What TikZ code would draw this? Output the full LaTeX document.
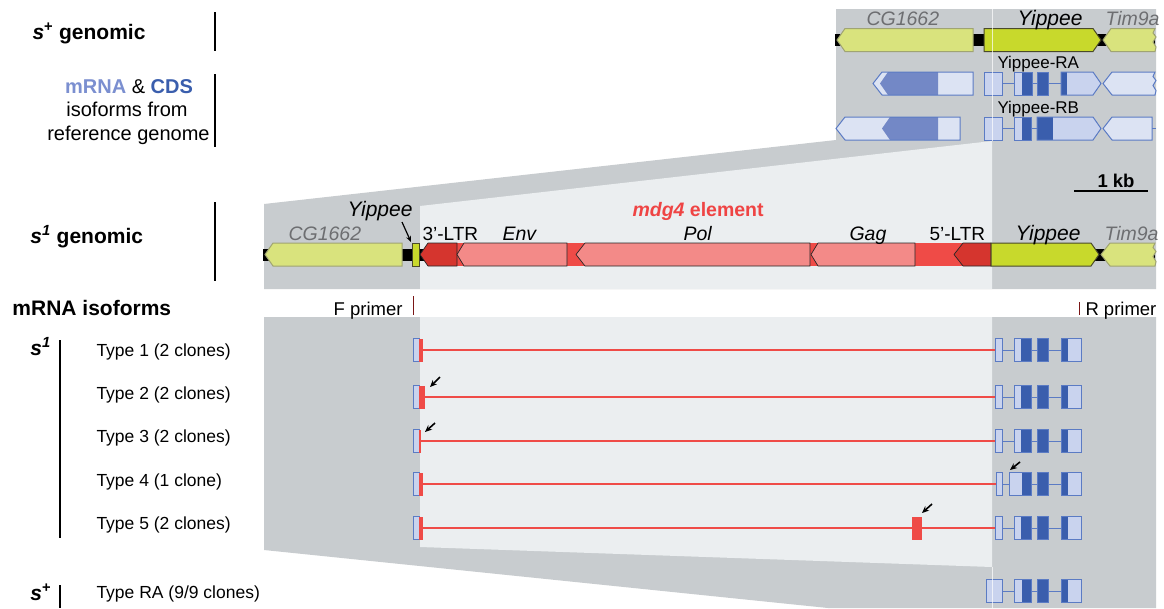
\documentclass[tikz,border=0pt]{standalone}
\usepackage{fontspec}
\setmainfont{Liberation Sans}
\usetikzlibrary{arrows.meta}
\definecolor{panelgray}{HTML}{C8CCCF}
\definecolor{panellight}{HTML}{EBEEF0}
\definecolor{cgyel}{HTML}{D9E37D}
\definecolor{cgout}{HTML}{A0A472}
\definecolor{yipyel}{HTML}{C8D92C}
\definecolor{yipout}{HTML}{4A4A2A}
\definecolor{ltrred}{HTML}{D5352E}
\definecolor{elred}{HTML}{EF4B47}
\definecolor{elpink}{HTML}{F38A88}
\definecolor{utrblue}{HTML}{DCE3F3}
\definecolor{exlight}{HTML}{C9D3EE}
\definecolor{cdsdark}{HTML}{3A5EAD}
\definecolor{cdsmid}{HTML}{7388C6}
\definecolor{outblue}{HTML}{5B7BC4}
\definecolor{mrnablue}{HTML}{7B8FD0}
\definecolor{labgray}{HTML}{6D6E71}
\definecolor{primred}{HTML}{7A1616}
\definecolor{mdgred}{HTML}{EF4444}
\newcommand\fsz[1]{\fontsize{#1}{#1}\selectfont}
% left-pointing gene: style, tip x, shoulder x, right x, yc
\newcommand\geneL[5]{\path[#1] (#2,#5) -- (#3,{#5-11.5}) -- (#4,{#5-11.5}) -- (#4,{#5+11.5}) -- (#3,{#5+11.5}) -- cycle;}
% right-pointing gene: style, left x, shoulder x, tip x, yc
\newcommand\geneR[5]{\path[#1] (#2,{#5-11.5}) -- (#3,{#5-11.5}) -- (#4,#5) -- (#3,{#5+11.5}) -- (#2,{#5+11.5}) -- cycle;}
% left-pointing gene with jagged right end: style, tip, shoulder, right, yc
\newcommand\geneJ[5]{\path[#1] (#2,#5) -- (#3,{#5-11.5}) -- (#4,{#5-11.5}) -- ({#4-2},{#5-7}) -- ({#4+1},{#5-3}) -- ({#4-2},{#5+2}) -- ({#4+1},{#5+7}) -- (#4,{#5+11.5}) -- (#3,{#5+11.5}) -- cycle;}
% box: style, x1, x2, yc
\newcommand\gbox[4]{\path[#1] (#2,{#4-11.5}) rectangle (#3,{#4+11.5});}
% Yippee-RA transcript in the lower rows: yc, exon1 left, exon2 left, dark start of exon2
\newcommand\yipTx[4]{%
 \draw[outblue,line width=1pt] (1002,#1) -- (1061,#1);
 \gbox{fill=exlight,draw=outblue}{#2}{1002}{#1}
 \gbox{fill=exlight}{#3}{1031}{#1}\gbox{fill=cdsdark}{#4}{1031}{#1}\gbox{draw=outblue}{#3}{1031}{#1}
 \gbox{fill=cdsdark,draw=outblue}{1037}{1048}{#1}
 \gbox{fill=exlight}{1061}{1081}{#1}\gbox{fill=cdsdark}{1061}{1068}{#1}\gbox{draw=outblue}{1061}{1081}{#1}}
\begin{document}
\begin{tikzpicture}[x=1pt,y=-1pt,line width=1pt,
  lab/.style={inner sep=0pt,anchor=base west},
  rowlab/.style={lab,font=\fsz{17.5}},
  headlab/.style={lab,font=\fsz{21}\bfseries},
  genelab/.style={lab,font=\fsz{19.5}\itshape,text=labgray},
  yiplab/.style={lab,font=\fsz{21}\itshape},
  tplab/.style={lab,font=\fsz{19}},
  redline/.style={draw=elred,line width=1.4pt},
  vbar/.style={black,line width=2pt},
  pointer/.style={-{Stealth[length=7pt,width=6pt]},line width=1.6pt,black}]
\useasboundingbox (0,0) rectangle (1164,608);
\fill[white] (0,0) rectangle (1164,608);
% ---------- panels ----------
\fill[panelgray] (836,9) -- (1156,9) -- (1156,289) -- (264,289) -- (264,204) -- (836,140) -- cycle;
\fill[panellight] (992,141) -- (992,289) -- (420,289) -- (420,206) -- cycle;
\fill[panelgray] (264,317) -- (1156,317) -- (1156,608) -- (828,608) -- (264,550) -- cycle;
\fill[panellight] (420,317) -- (992,317) -- (992,567) -- (420,547) -- cycle;
% ---------- s+ genomic ----------
\fill[black] (835,34) rectangle (1155,46);
\geneL{fill=cgyel,draw=cgout}{837}{845}{973}{40}
\geneR{fill=yipyel,draw=yipout}{984}{1093}{1101}{40}
\geneJ{fill=cgyel,draw=cgout}{1103}{1111}{1155}{40}
\node[genelab] (tcg) at (866,25) {CG1662};
\node[yiplab] (tyip) at (1017,25) {Yippee};
\node[genelab] (ttim) at (1105,25) {Tim9a};
% ---------- reference isoforms ----------
% RA
\geneL{fill=utrblue}{873}{882}{973}{83.5}
\geneL{fill=cdsmid}{880}{888}{938}{83.5}
\geneL{draw=outblue}{873}{882}{973}{83.5}
\draw[outblue] (1002,83.5) -- (1061,83.5);
\gbox{fill=exlight,draw=outblue}{984}{1002}{83.5}
\gbox{fill=exlight}{1014}{1032}{83.5}\gbox{fill=cdsdark}{1022}{1032}{83.5}\gbox{draw=outblue}{1014}{1032}{83.5}
\gbox{fill=cdsdark,draw=outblue}{1037}{1048}{83.5}
\geneR{fill=exlight}{1061}{1093}{1101}{83.5}\gbox{fill=cdsdark}{1061}{1067}{83.5}\geneR{draw=outblue}{1061}{1093}{1101}{83.5}
\geneJ{fill=utrblue,draw=outblue}{1103}{1112}{1155}{83.5}
\node[tplab,font=\fsz{17}] (tra) at (997,68.3) {Yippee-RA};
% RB
\geneL{fill=utrblue}{836}{845}{960}{128.5}
\geneL{fill=cdsmid}{882}{890}{938}{128.5}
\geneL{draw=outblue}{836}{845}{960}{128.5}
\draw[outblue] (1002,128.5) -- (1037,128.5);
\gbox{fill=exlight,draw=outblue}{984}{1002}{128.5}
\gbox{fill=exlight}{1014}{1031}{128.5}\gbox{fill=cdsdark}{1022}{1031}{128.5}\gbox{draw=outblue}{1014}{1031}{128.5}
\geneR{fill=exlight}{1037}{1093}{1101}{128.5}\gbox{fill=cdsdark}{1037}{1053}{128.5}\geneR{draw=outblue}{1037}{1093}{1101}{128.5}
\geneL{fill=utrblue,draw=outblue}{1103}{1112}{1152}{128.5}
\draw[outblue] (1152,128.5) -- (1156,128.5);
\node[tplab,font=\fsz{17}] (trb) at (997,113.3) {Yippee-RB};
\draw[white,opacity=0.7,line width=0.8pt] (992,9) -- (992,141);
% scale bar
\node[lab,anchor=base,font=\fsz{18.5}\bfseries] (kb) at (1116,187) {1 kb};
\draw[line width=2pt] (1074,191) -- (1148,191);
% ---------- s1 genomic ----------
\fill[black] (263,248.5) rectangle (1155,260.5);
\geneL{fill=cgyel,draw=cgout}{265}{273}{402}{254.5}
\gbox{fill=yipyel,draw=yipout,line width=0.6pt}{412}{419}{254.5}
\gbox{fill=elred}{457}{991}{254.5}
\geneL{fill=ltrred,draw=black!85,line width=0.7pt}{420}{428}{457}{254.5}
\geneL{fill=elpink,draw=black!85,line width=0.7pt}{457}{464}{567}{254.5}
\geneL{fill=elpink,draw=black!85,line width=0.7pt}{576}{585}{810}{254.5}
\geneL{fill=elpink,draw=black!85,line width=0.7pt}{811}{818}{915}{254.5}
\geneL{fill=ltrred,draw=black!85,line width=0.7pt}{954}{963}{991}{254.5}
\geneR{fill=yipyel,draw=yipout}{991}{1091}{1099}{254.5}
\geneJ{fill=cgyel,draw=cgout}{1101}{1110}{1155}{254.5}
\node[genelab] (mcg) at (288,240) {CG1662};
\node[yiplab] (msy) at (347,216.7) {Yippee};
\coordinate (sytail) at (402,222);
\coordinate (sytip) at (411,242);
\draw[-{Stealth[length=6pt,width=5pt]},line width=1.2pt] (sytail) -- (sytip);
\node[lab,font=\fsz{19.5}\bfseries,text=mdgred] (mdg) at (632,216.7) {\textit{mdg4} element};
\node[tplab] (ltr3) at (422,240) {3’-LTR};
\node[yiplab,font=\fsz{19.5}\itshape] (env) at (502,240) {Env};
\node[yiplab,font=\fsz{19.5}\itshape] (pol) at (683,240) {Pol};
\node[yiplab,font=\fsz{19.5}\itshape] (gag) at (849,240) {Gag};
\node[tplab] (ltr5) at (929,240) {5’-LTR};
\node[yiplab] (myip) at (1015,240) {Yippee};
\node[genelab] (mtim) at (1104,240) {Tim9a};
% ---------- primers ----------
\node[tplab,font=\fsz{18.5},anchor=base east] (fp) at (403,315) {F primer};
\node[tplab,font=\fsz{18.5}] (rp) at (1085,315) {R primer};
\draw[primred,line width=1.8pt] (413.5,296) -- (413.5,315);
\draw[primred,line width=1.8pt] (1079.5,302) -- (1079.5,315);
% ---------- mRNA rows ----------
% Type 1
\path[redline] (423,350) -- (995,350);
\gbox{fill=exlight,draw=outblue}{413}{419}{350}\gbox{fill=elred}{419}{423}{350}
\yipTx{350}{995}{1014}{1021}
% Type 2
\path[redline] (425,397) -- (995,397);
\gbox{fill=exlight,draw=outblue}{413}{419}{397}\gbox{fill=elred}{419}{425}{397}
\yipTx{397}{995}{1014}{1021}
\coordinate (a2t) at (440,377); \coordinate (a2h) at (430,387);
\draw[pointer] (a2t) -- (a2h);
% Type 3
\path[redline] (421,441) -- (995,441);
\gbox{fill=exlight,draw=outblue}{413}{419}{441}\gbox{fill=elred}{419}{421}{441}
\yipTx{441}{995}{1014}{1021}
\coordinate (a3t) at (435,423); \coordinate (a3h) at (425,432);
\draw[pointer] (a3t) -- (a3h);
% Type 4
\path[redline] (423,484) -- (996,484);
\gbox{fill=exlight,draw=outblue}{413}{419}{484}\gbox{fill=elred}{419}{423}{484}
\yipTx{484}{996}{1009}{1022}
\coordinate (a4t) at (1020,462); \coordinate (a4h) at (1010,470);
\draw[pointer] (a4t) -- (a4h);
% Type 5
\path[redline] (423,528) -- (995,528);
\gbox{fill=exlight,draw=outblue}{413}{419}{528}\gbox{fill=elred}{419}{423}{528}
\gbox{fill=elred}{912}{922}{528}
\yipTx{528}{995}{1014}{1021}
\coordinate (a5t) at (932,504); \coordinate (a5h) at (922,513);
\draw[pointer] (a5t) -- (a5h);
% Type RA
\yipTx{591}{986}{1014}{1022}
\draw[white,opacity=0.7,line width=0.8pt] (992,567) -- (992,608);
% ---------- left labels ----------
\node[headlab] (lsg) at (32,39.5) {\textit{s}\textsuperscript{+} genomic};
\draw[vbar] (214.5,12) -- (214.5,51);
\node[lab,anchor=base,font=\fsz{20}] (iso1) at (129,93) {\textcolor{mrnablue}{\bfseries mRNA} \& \textcolor{cdsdark}{\bfseries CDS}};
\node[lab,anchor=base,font=\fsz{20}] (iso2) at (127,116.5) {isoforms from};
\node[lab,anchor=base,font=\fsz{20}] (iso3) at (128.5,140) {reference genome};
\draw[vbar] (214.5,74) -- (214.5,147);
\node[headlab] (l1g) at (30,243.3) {\textit{s}\textsuperscript{\textit{1}} genomic};
\draw[vbar] (215,202) -- (215,281);
\node[headlab] (lmi) at (12,315) {mRNA isoforms};
\node[headlab] (ls1) at (30,355) {\textit{s}\textsuperscript{\textit{1}}};
\draw[vbar] (59.5,340) -- (59.5,538);
\node[headlab] (lsp) at (30,600) {\textit{s}\textsuperscript{+}};
\draw[vbar] (59.5,585) -- (59.5,608);
\node[rowlab] (t1) at (96,356) {Type 1 (2 clones)};
\node[rowlab] (t2) at (96,399) {Type 2 (2 clones)};
\node[rowlab] (t3) at (96,442) {Type 3 (2 clones)};
\node[rowlab] (t4) at (96,486.5) {Type 4 (1 clone)};
\node[rowlab] (t5) at (96,529) {Type 5 (2 clones)};
\node[rowlab] (tra2) at (96,598) {Type RA (9/9 clones)};
\end{tikzpicture}
\end{document}
